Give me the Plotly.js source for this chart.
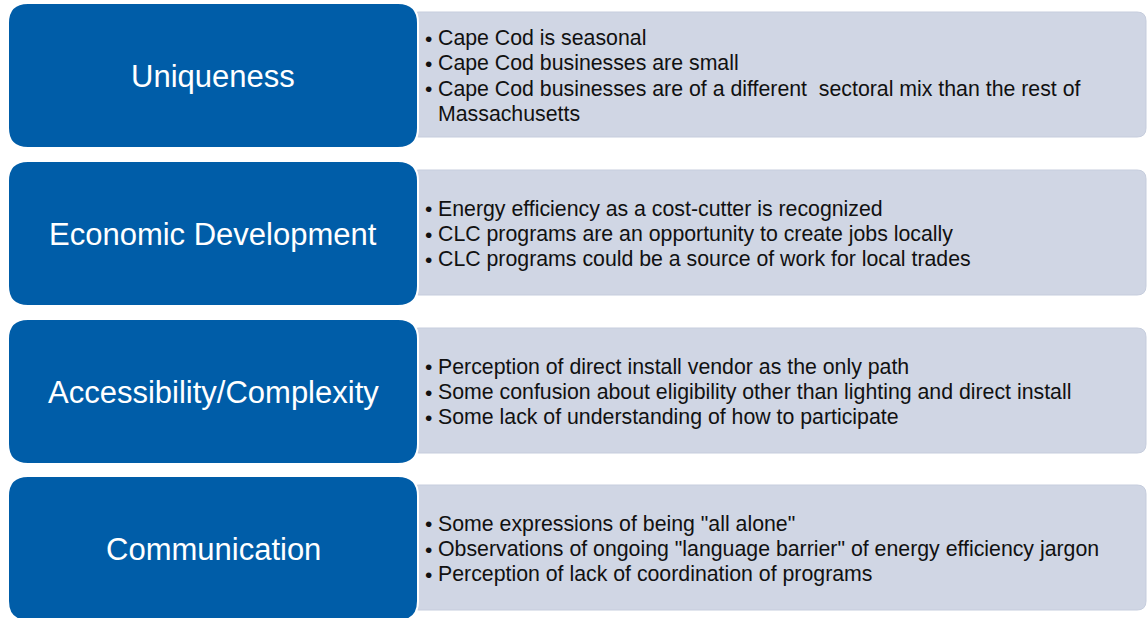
<!DOCTYPE html>
<html><head><meta charset="utf-8">
<script src="https://cdn.plot.ly/plotly-3.0.1.min.js"></script>
<style>html,body{margin:0;padding:0;background:#fff}#chart{width:1147px;height:618px}</style>
</head><body><div id="chart"></div>
<script>
// ---- content ----
var categories = ["Uniqueness", "Economic Development", "Accessibility/Complexity", "Communication"];
var bullets1 = ["Cape Cod is seasonal", "Cape Cod businesses are small",
  ["Cape Cod businesses are of a different  sectoral mix than the rest of", "Massachusetts"]];
var bullets2 = ["Energy efficiency as a cost-cutter is recognized",
  "CLC programs are an opportunity to create jobs locally",
  "CLC programs could be a source of work for local trades"];
var bullets3 = ["Perception of direct install vendor as the only path",
  "Some confusion about eligibility other than lighting and direct install",
  "Some lack of understanding of how to participate"];
var bullets4 = ["Some expressions of being \"all alone\"",
  "Observations of ongoing \"language barrier\" of energy efficiency jargon",
  "Perception of lack of coordination of programs"];
var bulletLists = [bullets1, bullets2, bullets3, bullets4];

// ---- layout geometry ----
var W = 1147, H = 618;
var rowTop = [3, 161, 319, 476];
var blueX0 = 8, blueX1 = 418, blueH = 145, blueR = 20;
var grayX0 = 410, grayX1 = 1146, grayOff = 9, grayH = 125, grayR = 9;
var lineH = 25.3;
var BLUE = "rgb(0,93,168)", GRAY = "rgb(208,214,228)";
var FONT = "Liberation Sans, Arial, sans-serif";

function rrect(x0, y0, x1, y1, r) {
  return "M" + (x0 + r) + "," + y0 + " L" + (x1 - r) + "," + y0 +
    " Q" + x1 + "," + y0 + " " + x1 + "," + (y0 + r) +
    " L" + x1 + "," + (y1 - r) +
    " Q" + x1 + "," + y1 + " " + (x1 - r) + "," + y1 +
    " L" + (x0 + r) + "," + y1 +
    " Q" + x0 + "," + y1 + " " + x0 + "," + (y1 - r) +
    " L" + x0 + "," + (y0 + r) +
    " Q" + x0 + "," + y0 + " " + (x0 + r) + "," + y0 + " Z";
}

var shapes = [], annotations = [];
categories.forEach(function (cat, i) {
  var t = rowTop[i];
  var gy0 = t + grayOff, gy1 = gy0 + grayH;
  shapes.push({type: "path", xref: "x", yref: "y", path: rrect(grayX0, gy0, grayX1, gy1, grayR),
    fillcolor: GRAY, line: {color: "rgb(198,205,221)", width: 1}, layer: "above"});
  shapes.push({type: "path", xref: "x", yref: "y", path: rrect(blueX0, t, blueX1, t + blueH, blueR),
    fillcolor: BLUE, line: {color: "#ffffff", width: 2}, layer: "above"});
  annotations.push({x: (blueX0 + blueX1) / 2, y: t + blueH / 2 + 1, xref: "x", yref: "y",
    text: cat, showarrow: false, xanchor: "center", yanchor: "middle",
    font: {family: FONT, size: 31, color: "#ffffff"}});
  var lines = [];
  bulletLists[i].forEach(function (b) {
    var segs = Array.isArray(b) ? b : [b];
    segs.forEach(function (s, k) { lines.push({text: s, bullet: k === 0}); });
  });
  var cy = (gy0 + gy1) / 2 + 1.5;
  lines.forEach(function (ln, k) {
    var y = cy + (k - (lines.length - 1) / 2) * lineH;
    if (ln.bullet) {
      annotations.push({x: 423, y: y, xref: "x", yref: "y", text: "•", showarrow: false,
        xanchor: "left", yanchor: "middle",
        font: {family: FONT, size: 21, color: "#111111"}});
    }
    annotations.push({x: 436, y: y, xref: "x", yref: "y", text: ln.text, showarrow: false,
      xanchor: "left", yanchor: "middle",
      font: {family: FONT, size: 21.3, color: "#111111"}});
  });
});

var layout = {
  width: W, height: H, margin: {l: 0, r: 0, t: 0, b: 0},
  paper_bgcolor: "#ffffff", plot_bgcolor: "#ffffff",
  xaxis: {range: [0, W], visible: false, fixedrange: true},
  yaxis: {range: [H, 0], visible: false, fixedrange: true},
  shapes: shapes, annotations: annotations, showlegend: false
};
Plotly.newPlot("chart", [{x: [], y: [], type: "scatter", hoverinfo: "skip"}], layout,
  {displayModeBar: false, staticPlot: true});
</script></body></html>
